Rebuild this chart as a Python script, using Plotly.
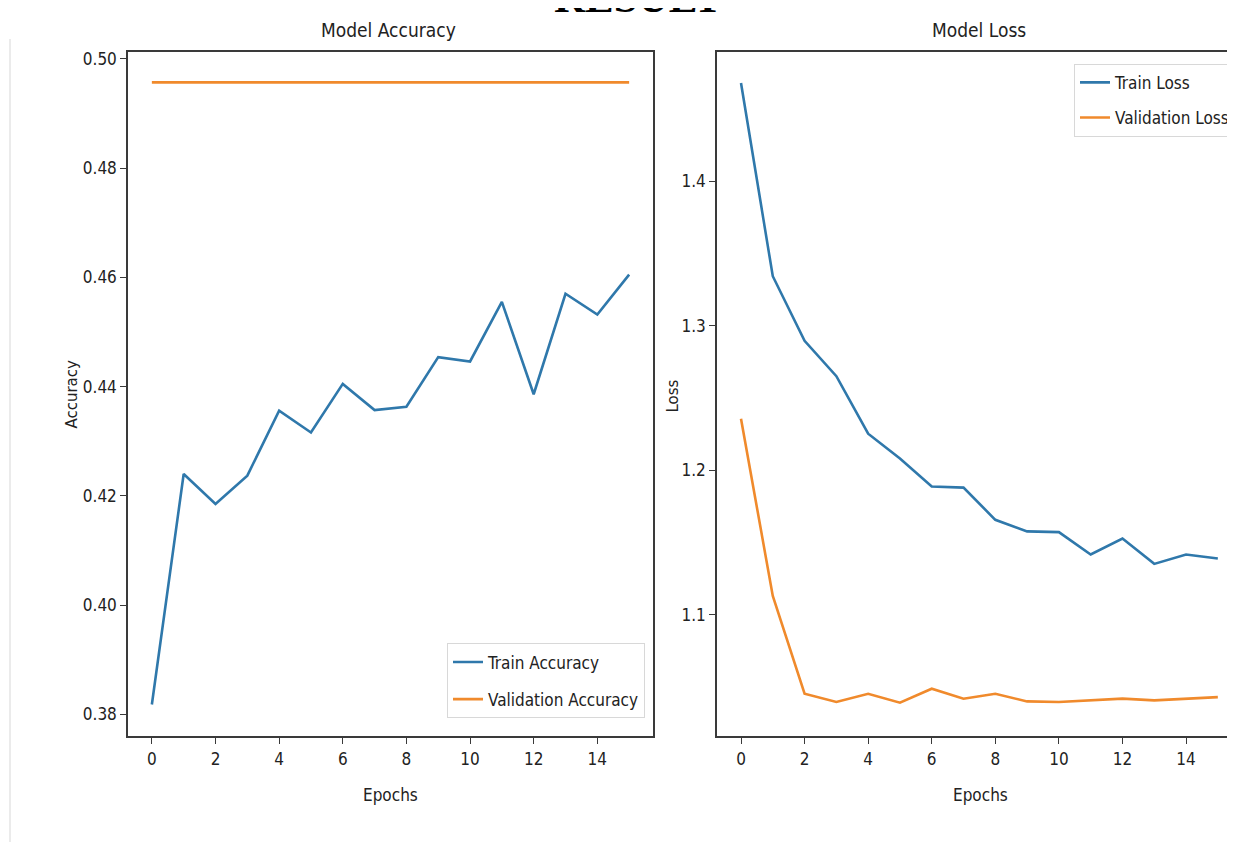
import plotly.graph_objects as go

epochs = list(range(16))
train_acc = [0.3818, 0.4240, 0.4185, 0.4237, 0.4356, 0.4316, 0.4405, 0.4357,
             0.4363, 0.4454, 0.4446, 0.4555, 0.4386, 0.4570, 0.4532, 0.4605]
val_acc = [0.4957] * 16
train_loss = [1.4681, 1.3344, 1.2897, 1.2652, 1.2254, 1.2083, 1.1888, 1.1881,
              1.1658, 1.1578, 1.1573, 1.1418, 1.1528, 1.1353, 1.1418, 1.1390]
val_loss = [1.2358, 1.1131, 1.0454, 1.0397, 1.0454, 1.0392, 1.0489, 1.0420,
            1.0454, 1.0401, 1.0397, 1.0408, 1.0420, 1.0408, 1.0420, 1.0431]
x_ticks = [0, 2, 4, 6, 8, 10, 12, 14]
acc_ticks = [0.38, 0.40, 0.42, 0.44, 0.46, 0.48, 0.50]
loss_ticks = [1.1, 1.2, 1.3, 1.4]

# the page body adds an 8px margin, so the figure is drawn offset by 8px
OFF = 8
W, H = 1235 - OFF, 842 - OFF
BLUE = "#2f78ab"
ORANGE = "#f08a2c"
AX = "#3a3a3a"
NARROW = "Liberation Sans Narrow, DejaVu Sans Condensed, Roboto Condensed, DejaVu Sans"
WIDE = "DejaVu Sans, Verdana, sans-serif"

def px(x):
    return (x - OFF) / W

def py(y):
    return 1 - (y - OFF) / H

fig = go.Figure()
fig.add_trace(go.Scatter(x=epochs, y=train_acc, mode="lines", name="Train Accuracy",
                         line=dict(color=BLUE, width=2.6), xaxis="x", yaxis="y",
                         legend="legend", legendgroup="a1"))
fig.add_trace(go.Scatter(x=epochs, y=val_acc, mode="lines", name="Validation Accuracy",
                         line=dict(color=ORANGE, width=2.6), xaxis="x", yaxis="y",
                         legend="legend", legendgroup="a2"))
fig.add_trace(go.Scatter(x=epochs, y=train_loss, mode="lines", name="Train Loss",
                         line=dict(color=BLUE, width=2.6), xaxis="x2", yaxis="y2",
                         legend="legend2", legendgroup="b1"))
fig.add_trace(go.Scatter(x=epochs, y=val_loss, mode="lines", name="Validation Loss",
                         line=dict(color=ORANGE, width=2.6), xaxis="x2", yaxis="y2",
                         legend="legend2", legendgroup="b2"))

tickfont = dict(family=NARROW, size=17, color="#222")
common_axis = dict(showgrid=False, zeroline=False, showline=True, linecolor=AX,
                   linewidth=1.5, ticks="outside", ticklen=6, tickwidth=1.3,
                   tickcolor=AX, tickfont=tickfont)

ydom = [py(736), py(49)]
fig.update_layout(
    width=W, height=H,
    margin=dict(l=0, r=0, t=0, b=0),
    paper_bgcolor="white", plot_bgcolor="white",
    showlegend=True,
    xaxis=dict(domain=[px(128), px(653)], range=[-0.75, 15.75], tickvals=x_ticks,
               mirror=True, anchor="y", **common_axis),
    yaxis=dict(domain=ydom, range=[0.37597, 0.50128], tickvals=acc_ticks,
               ticktext=[f"{v:.2f}" for v in acc_ticks], mirror=True, anchor="x",
               **common_axis),
    xaxis2=dict(domain=[px(717), 1.0], range=[-0.755, 15.54], tickvals=x_ticks,
                mirror=True, anchor="y2", **common_axis),
    yaxis2=dict(domain=ydom, range=[1.0159, 1.4897], tickvals=loss_ticks,
                ticktext=[f"{v:.1f}" for v in loss_ticks], mirror=False, anchor="x2",
                **common_axis),
    legend=dict(x=px(645), y=py(718), xanchor="right", yanchor="bottom",
                xref="paper", yref="paper",
                bgcolor="rgba(255,255,255,0.85)", bordercolor="#d8d8d8", borderwidth=1,
                font=dict(family=NARROW, size=17, color="#222"), tracegroupgap=12,
                itemwidth=30),
    legend2=dict(x=1.0, y=py(61), xanchor="right", yanchor="top",
                 xref="paper", yref="paper",
                 bgcolor="rgba(255,255,255,0.85)", bordercolor="#d8d8d8", borderwidth=1,
                 font=dict(family=NARROW, size=17, color="#222"), tracegroupgap=10,
                 itemwidth=30),
)

annos = [
    dict(text="Model Accuracy", x=px(388), y=py(27), font=dict(family=NARROW, size=19, color="#222")),
    dict(text="Model Loss", x=px(979), y=py(27), font=dict(family=NARROW, size=19, color="#222")),
    dict(text="Epochs", x=px(390), y=py(795), font=dict(family=NARROW, size=17, color="#222")),
    dict(text="Epochs", x=px(980), y=py(795), font=dict(family=NARROW, size=17, color="#222")),
    dict(text="Accuracy", x=px(72), y=py(393), textangle=-90, font=dict(family=WIDE, size=15, color="#222")),
    dict(text="Loss", x=px(673), y=py(395), textangle=-90, font=dict(family=WIDE, size=15, color="#222")),
    dict(text="<b>RESULT</b>", x=px(638), y=py(-6), font=dict(family="Liberation Serif, Times New Roman, serif", size=43, color="#000")),
]
for a in annos:
    a.update(xref="paper", yref="paper", showarrow=False, xanchor="center", yanchor="middle")
    fig.add_annotation(**a)

fig.add_shape(type="line", xref="paper", yref="paper", x0=px(10), x1=px(10), y0=0, y1=py(36),
              line=dict(color="#e4e4e4", width=1.5))

fig.write_html("out.html")
